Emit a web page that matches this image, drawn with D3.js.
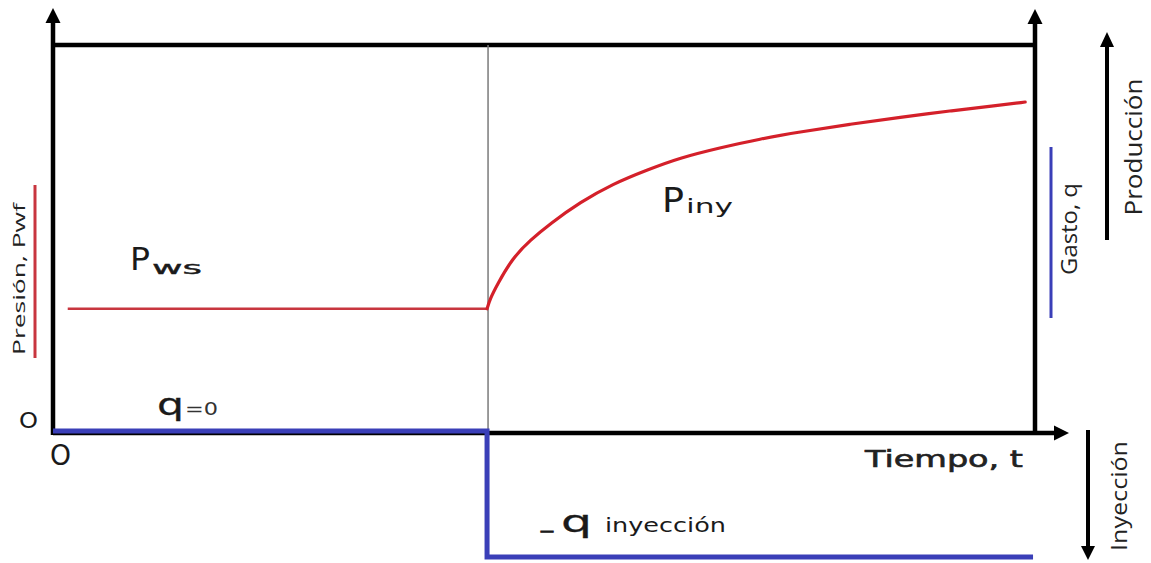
<!DOCTYPE html>
<html>
<head>
<meta charset="utf-8">
<script src="https://cdn.jsdelivr.net/npm/d3@7"></script>
<style>
  html, body { margin: 0; padding: 0; background: #fff; }
  svg { display: block; }
</style>
</head>
<body>
<svg id="chart" width="1151" height="563"></svg>
<script>
// ---------- data ----------
// time axis is relative (0..100), pressure relative (0..100), rate relative (-1..0)
const injectionStart = 44.2;

const pwsTime     = [1.5, 44.2];
const pwsPressure = [32.0, 32.0];

const injTime     = [44.2, 44.5, 45.2, 46.8, 48.6, 50.6, 53.7, 57.0, 60.5, 63.8, 67.9, 72.0, 76.1, 81.2, 86.3, 91.3, 96.4, 99.0];
const injPressure = [32.0, 34.5, 38.1, 45.1, 49.7, 53.9, 59.5, 64.2, 67.8, 70.9, 73.5, 75.8, 77.6, 79.6, 81.4, 83.0, 84.5, 85.3];

const rateTime  = [0, 44.2, 44.2, 99.8];
const rateValue = [0, 0, -1, -1];

const originLabels = ["O", "O"];
const xAxisLabel = "Tiempo, t";
const leftLabel  = "Presión, Pwf";
const rightLabel = "Gasto, q";
const prodLabel  = "Producción";
const injLabel   = "Inyección";

// ---------- scales ----------
const svg = d3.select("#chart");
const x  = d3.scaleLinear().domain([0, 100]).range([53, 1035]);
const yP = d3.scaleLinear().domain([0, 100]).range([433, 45]);
const yQ = d3.scaleLinear().domain([-1, 0]).range([557, 431]);

const BIG = "'DejaVu Sans', sans-serif";
const SMALL = "'Open Sans', sans-serif";

// ---------- frame / axes ----------
const axisW = 4.5;
const g = svg.append("g");

g.append("line").attr("x1", x(0)).attr("x2", x(100)).attr("y1", yP(100)).attr("y2", yP(100))
  .attr("stroke", "#000").attr("stroke-width", axisW);

g.append("line").attr("x1", x(injectionStart) + 1).attr("x2", x(injectionStart) + 1)
  .attr("y1", yP(100)).attr("y2", yP(0))
  .attr("stroke", "#7a7a7a").attr("stroke-width", 1.5);

g.append("line").attr("x1", x(0)).attr("x2", x(0)).attr("y1", yP(0) + 2).attr("y2", 20)
  .attr("stroke", "#000").attr("stroke-width", axisW);
g.append("line").attr("x1", x(100)).attr("x2", x(100)).attr("y1", yP(0) + 2).attr("y2", 20)
  .attr("stroke", "#000").attr("stroke-width", axisW);
g.append("line").attr("x1", x(0)).attr("x2", 1056).attr("y1", yP(0)).attr("y2", yP(0))
  .attr("stroke", "#000").attr("stroke-width", axisW);

function arrowUp(cx, tipY, len, half) {
  g.append("path").attr("d", `M${cx},${tipY} L${cx - half},${tipY + len} L${cx + half},${tipY + len} Z`).attr("fill", "#000");
}
function arrowDown(cx, tipY, len, half) {
  g.append("path").attr("d", `M${cx},${tipY} L${cx - half},${tipY - len} L${cx + half},${tipY - len} Z`).attr("fill", "#000");
}
function arrowRight(tipX, cy, len, half) {
  g.append("path").attr("d", `M${tipX},${cy} L${tipX - len},${cy - half} L${tipX - len},${cy + half} Z`).attr("fill", "#000");
}
arrowUp(x(0), 8, 15, 7.5);
arrowUp(x(100), 9, 15, 7.5);
arrowRight(1069, yP(0), 15, 7.5);

// ---------- series ----------
const line = d3.line().x(d => x(d[0])).y(d => yP(d[1])).curve(d3.curveMonotoneX);

g.append("path")
  .datum(d3.zip(pwsTime, pwsPressure))
  .attr("d", line)
  .attr("fill", "none").attr("stroke", "#c8363f").attr("stroke-width", 2.5);

g.append("path")
  .datum(d3.zip(injTime, injPressure))
  .attr("d", line.curve(d3.curveBasis))
  .attr("fill", "none").attr("stroke", "#d4202a").attr("stroke-width", 3.2)
  .attr("stroke-linecap", "round");

const rateLine = d3.line().x(d => x(d[0])).y(d => yQ(d[1]));
g.append("path")
  .datum(d3.zip(rateTime, rateValue))
  .attr("d", rateLine)
  .attr("fill", "none").attr("stroke", "#3a3fb8").attr("stroke-width", 5)
  .attr("stroke-linejoin", "miter");

// ---------- labels ----------
function txt(xp, yp, s, size, opts = {}) {
  const t = g.append("text").attr("x", xp).attr("y", yp).text(s)
    .attr("font-family", opts.family || BIG).attr("font-size", size)
    .attr("fill", opts.fill || "#1a1a1a");
  if (opts.weight) t.attr("font-weight", opts.weight);
  if (opts.stroke) t.attr("stroke", opts.fill || "#1a1a1a").attr("stroke-width", opts.stroke);
  if (opts.len) t.attr("textLength", opts.len).attr("lengthAdjust", "spacingAndGlyphs");
  if (opts.anchor) t.attr("text-anchor", opts.anchor);
  return t;
}

// P ws
txt(130, 270, "P", 32, { len: 20 });
txt(152, 274, "ws", 18, { stroke: 0.4, len: 50 });

// P iny
txt(662, 212, "P", 33, { len: 22 });
txt(686, 213, "iny", 20, { len: 47 });

// q=0
txt(157, 415, "q", 31, { len: 27, stroke: 0.3 });
txt(185, 415, "=0", 17, { len: 33, fill: "#333" });

// _q inyección
txt(541, 528, "_", 20, { stroke: 0.8, len: 12 });
txt(561, 532, "q", 31, { len: 31, stroke: 0.3 });
txt(605, 532, "inyección", 19, { len: 121 });

// origin labels
txt(19, 428, originLabels[0], 22, { len: 19 });
txt(50, 465, originLabels[1], 28, { len: 21 });

// x axis label
txt(865, 467, xAxisLabel, 23, { stroke: 0.6, len: 158, fill: "#222" });

// ---------- side indicators ----------
g.append("line").attr("x1", 35).attr("x2", 35).attr("y1", 185).attr("y2", 358)
  .attr("stroke", "#c8363f").attr("stroke-width", 3);
g.append("text").attr("transform", "translate(25,279) rotate(-90)")
  .attr("text-anchor", "middle").attr("font-family", SMALL).attr("font-size", 17)
  .attr("fill", "#222").attr("textLength", 152).attr("lengthAdjust", "spacingAndGlyphs")
  .text(leftLabel);

g.append("line").attr("x1", 1051).attr("x2", 1051).attr("y1", 147).attr("y2", 318)
  .attr("stroke", "#3a3fb8").attr("stroke-width", 3);
g.append("text").attr("transform", "translate(1077,229) rotate(-90)")
  .attr("text-anchor", "middle").attr("font-family", SMALL).attr("font-size", 21)
  .attr("fill", "#222").attr("textLength", 92).attr("lengthAdjust", "spacingAndGlyphs")
  .text(rightLabel);

g.append("line").attr("x1", 1107).attr("x2", 1107).attr("y1", 240).attr("y2", 45)
  .attr("stroke", "#000").attr("stroke-width", 4);
arrowUp(1107, 32, 15, 7);
g.append("text").attr("transform", "translate(1142,147) rotate(-90)")
  .attr("text-anchor", "middle").attr("font-family", SMALL).attr("font-size", 23)
  .attr("fill", "#222").attr("textLength", 137).attr("lengthAdjust", "spacingAndGlyphs")
  .text(prodLabel);

g.append("line").attr("x1", 1088).attr("x2", 1088).attr("y1", 430).attr("y2", 548)
  .attr("stroke", "#000").attr("stroke-width", 4);
arrowDown(1088, 560, 14, 7);
g.append("text").attr("transform", "translate(1127,496) rotate(-90)")
  .attr("text-anchor", "middle").attr("font-family", SMALL).attr("font-size", 21)
  .attr("fill", "#222").attr("textLength", 110).attr("lengthAdjust", "spacingAndGlyphs")
  .text(injLabel);
</script>
</body>
</html>
